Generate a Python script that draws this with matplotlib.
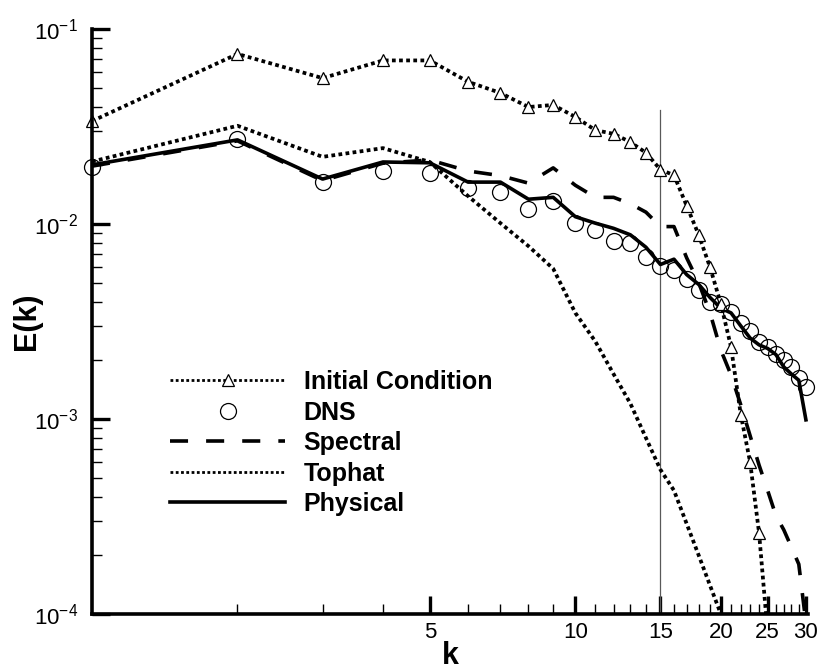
import numpy as np
import matplotlib
matplotlib.use("Agg")
import matplotlib.pyplot as plt
from matplotlib.lines import Line2D
from matplotlib.ticker import FixedLocator, LogLocator, NullFormatter, LogFormatterSciNotation

plt.rcParams['font.family'] = ['Liberation Sans', 'DejaVu Sans']
plt.rcParams['mathtext.fontset'] = 'custom'
plt.rcParams['mathtext.rm'] = 'Liberation Sans'
plt.rcParams['mathtext.it'] = 'Liberation Sans:italic'
plt.rcParams['mathtext.bf'] = 'Liberation Sans:bold'

# wavenumbers
k_ic = np.arange(1, 26)
k_tophat = np.arange(1, 22)
k_all = np.arange(1, 31)

# energy spectra
e_initial = [0.0337, 0.0745, 0.056, 0.069, 0.069, 0.0536, 0.047, 0.0398, 0.0408, 0.0354,
             0.0303, 0.029, 0.0263, 0.0232, 0.019, 0.0178, 0.0124, 0.0088, 0.0060, 0.0039,
             0.00234, 0.00105, 0.0006, 0.00026, 0.00008]
e_dns = [0.0196, 0.0273, 0.0164, 0.0186, 0.0183, 0.0153, 0.0146, 0.0119, 0.0131, 0.0101,
         0.0093, 0.0082, 0.0080, 0.0068, 0.0061, 0.0058, 0.0052, 0.0046, 0.0040, 0.0039,
         0.00354, 0.0031, 0.00282, 0.00248, 0.00234, 0.00216, 0.0020, 0.00185, 0.00162, 0.00146]
e_spectral = [0.0198, 0.0267, 0.0167, 0.0205, 0.0213, 0.0187, 0.0177, 0.0162, 0.0194, 0.0158,
              0.0137, 0.0137, 0.0127, 0.0115, 0.0097, 0.0097, 0.0067, 0.0050, 0.0035, 0.00226,
              0.00168, 0.00118, 0.00082, 0.00058, 0.00043, 0.00032, 0.00027, 0.00022, 0.00018, 0.00009]
e_tophat = [0.0209, 0.0319, 0.0221, 0.0245, 0.0208, 0.0139, 0.0101, 0.0077, 0.0059, 0.0035,
            0.0025, 0.0017, 0.0012, 0.0008, 0.00055, 0.00043, 0.00029, 0.0002, 0.00014, 0.0001,
            0.00006]
e_physical = [0.0201, 0.027, 0.0170, 0.0208, 0.0206, 0.0164, 0.0164, 0.0134, 0.0137, 0.0109,
              0.0101, 0.0095, 0.0088, 0.0076, 0.0062, 0.0066, 0.0055, 0.0049, 0.0042, 0.0037,
              0.0035, 0.0030, 0.0026, 0.0024, 0.0023, 0.00214, 0.00185, 0.0017, 0.00158, 0.00099]

k_cut = 15
cut_top = 0.0385

x_major = [5, 10, 15, 20, 25, 30]
x_minor = [k for k in range(2, 30) if k not in x_major]

fig = plt.figure(figsize=(8.25, 6.7), dpi=100)
ax = fig.add_axes([0.1115, 0.0836, 0.8679, 0.8731])

dot = (0, (1, 0.9))
ax.plot([k_cut, k_cut], [1e-4, cut_top], color='0.35', lw=0.9)
ax.plot(k_tophat, e_tophat, color='black', lw=2.7, linestyle=dot)
ax.plot(k_ic, e_initial, color='black', lw=2.7, linestyle=dot)
ax.plot(k_all, e_spectral, color='black', lw=2.6, linestyle=(0, (5, 5)))
ax.plot(k_all, e_physical, color='black', lw=2.6)
ax.plot(k_ic[:24], e_initial[:24], linestyle='none', marker='^', ms=9,
        mfc='white', mec='black', mew=0.9, clip_on=False)
ax.plot(k_all, e_dns, linestyle='none', marker='o', ms=11.5,
        mfc='none', mec='black', mew=0.9, clip_on=False)

ax.set_xscale('log')
ax.set_yscale('log')
ax.set_xlim(1, 30.3)
ax.set_ylim(1e-4, 1e-1)

ax.xaxis.set_major_locator(FixedLocator(x_major))
ax.xaxis.set_minor_locator(FixedLocator(x_minor))
ax.set_xticklabels([str(v) for v in x_major])
ax.xaxis.set_minor_formatter(NullFormatter())
ax.yaxis.set_major_locator(LogLocator(base=10, numticks=10))
ax.yaxis.set_minor_locator(LogLocator(base=10, subs=np.arange(2, 10), numticks=20))
ax.yaxis.set_major_formatter(LogFormatterSciNotation())
ax.yaxis.set_minor_formatter(NullFormatter())

for s in ['top', 'right']:
    ax.spines[s].set_visible(False)
for s in ['left', 'bottom']:
    ax.spines[s].set_linewidth(2.6)

ax.tick_params(which='major', direction='in', length=13, width=2.4, labelsize=16)
ax.tick_params(which='minor', direction='in', length=7.5, width=1)
ax.tick_params(axis='y', which='major', pad=10)
ax.tick_params(axis='x', which='major', pad=6)

ax.set_xlabel('k', fontsize=22, fontweight='bold')
ax.set_ylabel('E(k)', fontsize=22, fontweight='bold')
ax.xaxis.set_label_coords(0.5, -0.046)
ax.yaxis.set_label_coords(-0.07, 0.5)

handles = [
    Line2D([], [], color='black', lw=2, linestyle=dot, marker='^', ms=9, mfc='white', mec='black', mew=0.9),
    Line2D([], [], linestyle='none', marker='o', ms=11.5, mfc='none', mec='black', mew=0.9),
    Line2D([], [], color='black', lw=2.6, linestyle=(0, (5, 5))),
    Line2D([], [], color='black', lw=2, linestyle=dot),
    Line2D([], [], color='black', lw=2.6),
]
labels = ['Initial Condition', 'DNS', 'Spectral', 'Tophat', 'Physical']
ax.legend(handles, labels, loc='upper left', bbox_to_anchor=(0.109, 0.417),
          frameon=False, handlelength=4.6, handletextpad=0.75, labelspacing=0.26,
          borderaxespad=0, borderpad=0, prop={'weight': 'bold', 'size': 18})

fig.savefig('out.png', dpi=100)
